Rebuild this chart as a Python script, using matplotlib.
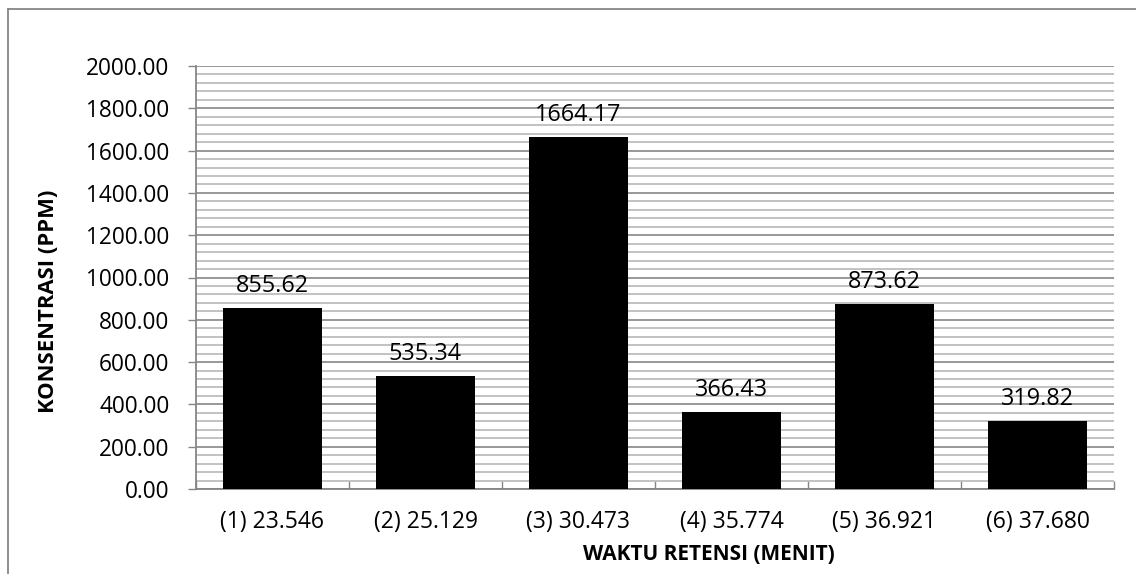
import matplotlib.pyplot as plt
from matplotlib.lines import Line2D
from matplotlib.ticker import MultipleLocator
import numpy as np

plt.rcParams['font.family'] = ['Open Sans', 'DejaVu Sans']

# data
categories = ["(1) 23.546", "(2) 25.129", "(3) 30.473", "(4) 35.774", "(5) 36.921", "(6) 37.680"]
concentration = [855.62, 535.34, 1664.17, 366.43, 873.62, 319.82]
value_labels = ["855.62", "535.34", "1664.17", "366.43", "873.62", "319.82"]

fig = plt.figure(figsize=(11.36, 5.74), dpi=100)
ax = fig.add_axes([196 / 1136, 85 / 574, 918 / 1136, 423 / 574])

x = np.arange(len(categories))
bars = ax.bar(x, concentration, width=0.65, color='black', zorder=3)

# value labels above the bars
for xi, v, lab in zip(x, concentration, value_labels):
    ax.annotate(lab, (xi, v), xytext=(0, 11.5), textcoords='offset points',
                ha='center', va='baseline', fontsize=16.8, color='black')

ax.set_xlim(-0.5, len(categories) - 0.5)
ax.set_ylim(0, 2000)

# y axis: major every 200, minor every 40
ax.yaxis.set_major_locator(MultipleLocator(200))
ax.yaxis.set_minor_locator(MultipleLocator(40))
ax.yaxis.set_major_formatter(plt.FuncFormatter(lambda v, p: f"{v:.2f}"))
ax.grid(axis='y', which='major', color='#868686', linewidth=1.2, zorder=0)
ax.grid(axis='y', which='minor', color='#b8b8b8', linewidth=1.2, zorder=0)
ax.tick_params(axis='y', which='major', direction='out', length=6, width=1.0,
               color='#868686', pad=13, labelsize=16.3)
ax.tick_params(axis='y', which='minor', length=0)

# x axis: ticks at category boundaries and centers, pointing in
ax.set_xticks(x)
ax.set_xticklabels(categories)
ax.set_xticks(np.arange(-0.5, len(categories)), minor=True)
ax.tick_params(axis='x', which='major', direction='in', length=5, width=1.0,
               color='#868686', pad=15, labelsize=16.5)
ax.tick_params(axis='x', which='minor', direction='in', length=6, width=1.0,
               color='#868686')

for side in ['top', 'right']:
    ax.spines[side].set_visible(False)
for side in ['left', 'bottom']:
    ax.spines[side].set_color('#868686')
    ax.spines[side].set_linewidth(1.3)
ax.set_axisbelow(True)

ax.set_ylabel("KONSENTRASI (PPM)", fontsize=15.8, fontweight='bold')
ax.set_xlabel("WAKTU RETENSI (MENIT)", fontsize=15, fontweight='bold')
ax.yaxis.set_label_coords(-147 / 918, 188 / 423)
ax.xaxis.set_label_coords(513 / 918, -66 / 423)
ax.yaxis.label.set_va('center')
ax.xaxis.label.set_va('center')

# outer chart border (top and left edges visible)
fig.add_artist(Line2D([8 / 1136, 8 / 1136], [0, 1 - 9 / 574], transform=fig.transFigure,
                      color='#868686', linewidth=1.3))
fig.add_artist(Line2D([8 / 1136, 1], [1 - 9 / 574, 1 - 9 / 574], transform=fig.transFigure,
                      color='#868686', linewidth=1.3))

fig.savefig('out.png', dpi=100)
